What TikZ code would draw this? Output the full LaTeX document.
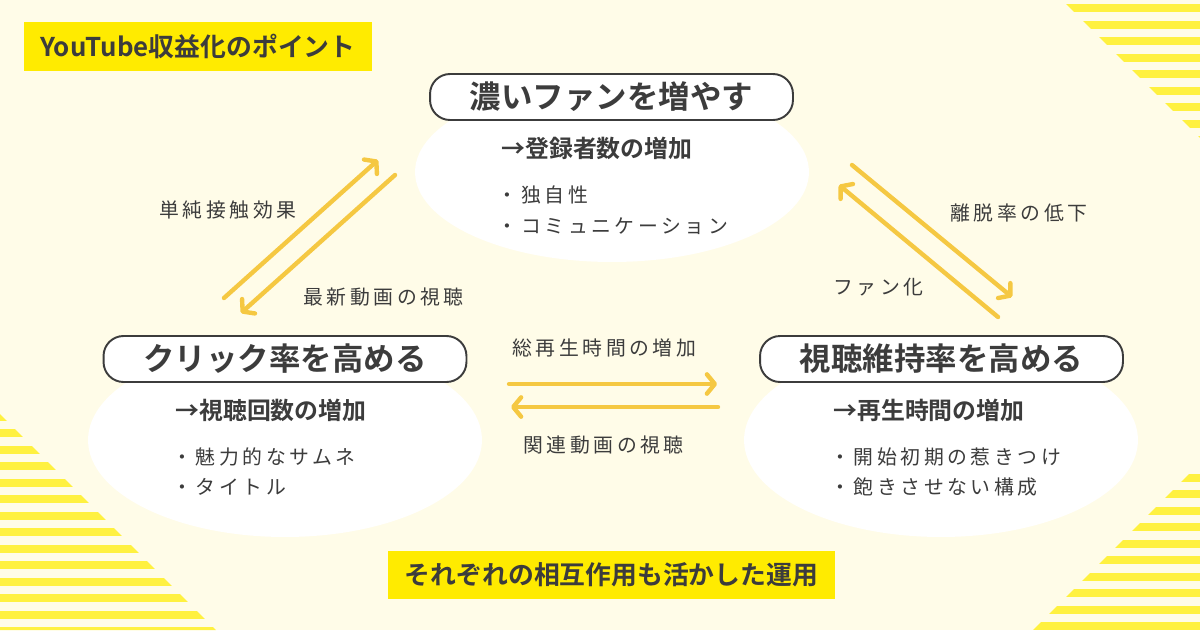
\documentclass[tikz,border=0pt]{standalone}
\usepackage{fontspec}
\setmainfont{Noto Sans CJK JP}[BoldFont={Noto Sans CJK JP Bold}]
\newfontfamily\spacedfont{Noto Sans CJK JP}[LetterSpace=18]
\usetikzlibrary{arrows.meta,shapes.geometric}

\definecolor{cream}{HTML}{FFFCE8}
\definecolor{stripe}{HTML}{FFF140}
\definecolor{marker}{HTML}{FFEB00}
\definecolor{ink}{HTML}{3C3C3C}
\definecolor{flow}{HTML}{F5C842}

\tikzset{
  headbox/.style={draw=ink, line width=1.1pt, fill=white, rounded corners=0.4cm,
    minimum width=7.26cm, minimum height=0.92cm, inner sep=0pt,
    font=\fontsize{17.9}{20}\selectfont\bfseries, text=ink},
  blob/.style={ellipse, fill=white, minimum width=7.88cm, inner sep=0pt},
  markbox/.style={fill=marker, inner sep=0pt, text=ink,
    font=\fontsize{14.7}{17}\selectfont\bfseries},
  subline/.style={anchor=west, inner sep=0pt, text=ink,
    font=\fontsize{13.6}{16}\selectfont\bfseries},
  bullet/.style={anchor=west, inner sep=0pt, text=ink,
    font=\spacedfont\fontsize{11.3}{14}\selectfont},
  flowlabel/.style={anchor=west, inner sep=0pt, text=ink,
    font=\spacedfont\fontsize{11.3}{14}\selectfont},
  flowarrow/.style={draw=flow, line width=2.5pt, line cap=round,
    -{Straight Barb[round,length=4.5pt,width=11pt]}},
}

\begin{document}
\begin{tikzpicture}[x=0.02cm,y=-0.02cm]
\useasboundingbox (0,0) rectangle (1200,630);
\fill[cream] (0,0) rectangle (1200,630);

% corner stripes
\begin{scope}
\clip (1062,0) -- (1200,0) -- (1200,138) -- cycle;
\foreach \k in {0,...,8}
  \fill[stripe] (1050,4+16.5*\k) rectangle (1200,12+16.5*\k);
\end{scope}
\begin{scope}
\clip (0,414) -- (0,630) -- (216,630) -- cycle;
\foreach \k in {0,...,13}
  \fill[stripe] (0,412.8+16.5*\k) rectangle (230,420.8+16.5*\k);
\end{scope}
\begin{scope}
\clip (1200,463) -- (1200,630) -- (1033,630) -- cycle;
\foreach \k in {0,...,9}
  \fill[stripe] (1020,473.5+16.5*\k) rectangle (1200,481.5+16.5*\k);
\end{scope}

% white backs
\node[blob, minimum height=3.6cm] (fanbg) at (612,172) {};
\node[blob, minimum height=3.88cm] (clickbg) at (285,440) {};
\node[blob, minimum height=3.88cm] (keepbg) at (941,440) {};

% headings
\node[markbox, minimum width=6.96cm, minimum height=0.98cm] (title) at (198,46.5) {YouTube収益化のポイント};
\node[headbox] (fan) at (611.5,97) {濃いファンを増やす};
\node[headbox] (click) at (285,359) {クリック率を高める};
\node[headbox] (keep) at (941.5,359) {視聴維持率を高める};

% contents
\node[subline] (fansub) at (501,148) {→登録者数の増加};
\node[bullet] (fanA) at (497.5,195) {・独自性};
\node[bullet] (fanB) at (497.5,226) {・コミュニケーション};
\node[subline] (clicksub) at (175,410) {→視聴回数の増加};
\node[bullet] (clickA) at (172,457) {・魅力的なサムネ};
\node[bullet] (clickB) at (172,487) {・タイトル};
\node[subline] (keepsub) at (833,410) {→再生時間の増加};
\node[bullet] (keepA) at (830,457) {・開始初期の惹きつけ};
\node[bullet] (keepB) at (830,487) {・飽きさせない構成};

% arrow ends
\coordinate (lu0) at (224,298); \coordinate (lu1) at (378,160);
\coordinate (ld0) at (395,175); \coordinate (ld1) at (241,313);
\coordinate (rd0) at (852,165); \coordinate (rd1) at (1012,297);
\coordinate (ru0) at (998,317); \coordinate (ru1) at (839,185);
\coordinate (mr0) at (509,384); \coordinate (mr1) at (717,384);
\coordinate (ml0) at (718,407); \coordinate (ml1) at (511,407);

\draw[flowarrow] (lu0) -- (lu1);
\draw[flowarrow] (ld0) -- (ld1);
\draw[flowarrow] (rd0) -- (rd1);
\draw[flowarrow] (ru0) -- (ru1);
\draw[flowarrow] (mr0) -- (mr1);
\draw[flowarrow] (ml0) -- (ml1);

\node[flowlabel] (mere) at (159,210) {単純接触効果};
\node[flowlabel] (newest) at (303,297) {最新動画の視聴};
\node[flowlabel] (churn) at (950,213) {離脱率の低下};
\node[flowlabel] (fanize) at (833,287) {ファン化};
\node[flowlabel] (total) at (512,348) {総再生時間の増加};
\node[flowlabel] (related) at (523,445) {関連動画の視聴};

\node[markbox, minimum width=8.94cm, minimum height=0.96cm] (mutual) at (611.5,575) {それぞれの相互作用も活かした運用};
\end{tikzpicture}
\end{document}
